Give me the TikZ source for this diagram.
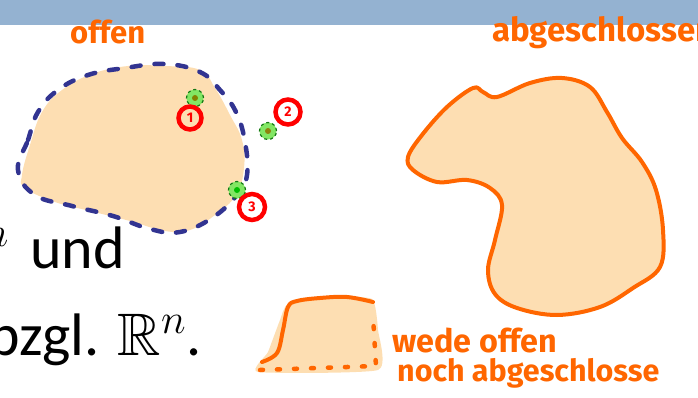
\RequirePackage{fix-cm}
\documentclass[tikz,border=0pt]{standalone}
\usepackage{fontspec}
\usepackage{amssymb}
\setmainfont{Carlito}
\newfontfamily\hand{Fira Sans}
\definecolor{band}{RGB}{148,178,209}
\definecolor{peach}{RGB}{253,222,178}
\definecolor{hando}{RGB}{255,102,0}
\definecolor{dashblue}{RGB}{50,52,145}
\definecolor{ptgreen}{RGB}{130,230,100}
\definecolor{ptdark}{RGB}{20,120,20}
\definecolor{dotolive}{RGB}{130,130,0}
\definecolor{dotgreen}{RGB}{0,190,0}
\tikzset{
  slidetext/.style={anchor=base west, inner sep=0pt, font=\fontsize{60}{72}\selectfont},
  handlabel/.style={anchor=base west, inner sep=0pt, text=hando, font=\hand\bfseries},
  gpt/.style={circle, minimum size=17pt, inner sep=0pt, fill=ptgreen, draw=ptdark, dashed, line width=1.2pt},
  rnum/.style={circle, minimum size=23pt, inner sep=0pt, draw=red, line width=4.5pt, text=red, font=\hand\bfseries\fontsize{14}{14}\selectfont},
  bluedash/.style={draw=dashblue, line width=4.5pt, line cap=round, dash pattern=on 9pt off 14pt},
  orangeline/.style={draw=hando, line width=4pt, line cap=round, line join=round},
  orangedots/.style={draw=hando, line width=4.5pt, line cap=round, dash pattern=on 3pt off 14pt}
}
\begin{document}
\begin{tikzpicture}[x=1pt,y=-1pt]
\useasboundingbox (0,0) rectangle (698,398);
% top band
\fill[band] (0,0) rectangle (698,25);

% slide text
\node[slidetext, anchor=base east] (sup) at (9,268) {${}^n$};
\node[slidetext] (und) at (30,268) {und};
\node[slidetext] (bzgl) at (-11.5,355) {bzgl. $\mathbb{R}^n$.};

% open set
\fill[peach] plot[smooth cycle, tension=0.7] coordinates {
 (22,175) (30,145) (42,112) (62,90) (92,74) (128,66) (165,66) (200,70)
 (215,88) (230,115) (242,140) (244,168) (236,195) (215,215) (190,230)
 (165,231) (130,221) (90,211) (55,202) (25,188)};
\draw[bluedash] plot[smooth cycle, tension=0.7] coordinates {
 (18,170) (28,140) (38,112) (58,90) (88,75) (125,68) (165,64) (200,72)
 (220,90) (236,112) (245,142) (247,175) (237,195) (212,218) (180,232)
 (150,229) (113,216) (72,206) (35,195)};

% closed set
\filldraw[fill=peach, orangeline] plot[smooth cycle, tension=0.6] coordinates {
 (408,157) (422,135) (447,107) (473,88) (483,92) (497,97) (530,83) (562,78)
 (590,87) (607,112) (622,138) (642,162) (656,190) (663,230) (660,267)
 (633,288) (600,307) (557,315) (517,308) (495,294) (488,270) (495,240)
 (502,205) (490,188) (467,180) (437,182) (413,170)};

% neither
\fill[peach] plot[smooth cycle, tension=0.3] coordinates {
 (258,372) (268,352) (280,320) (288,304) (330,297) (372,299) (378,330) (378,370)};
\draw[orangeline] plot[smooth, tension=0.6] coordinates {
 (262,362) (277,353) (283,330) (288,307) (297,301) (320,298) (347,297) (373,302)};
\draw[orangedots] (260,370) -- (376,366) -- (373,316);

% points
\node[gpt] (A) at (195,98) {};
\node[gpt] (B) at (268,131) {};
\node[gpt] (C) at (237,190) {};
\fill[dotolive] (A) circle (3pt);
\fill[dotolive!80!brown] (B) circle (3pt);
\fill[dotgreen] (C) circle (3pt);
\node[rnum] (n1) at (190,118) {1};
\node[rnum, minimum size=25pt] (n2) at (288,112) {2};
\node[rnum, minimum size=26pt] (n3) at (252,207) {3};

% handwritten labels
\node[handlabel] (offen) at (70,44) {\resizebox{75pt}{!}{offen}};
\node[handlabel] (abg) at (492,42) {\resizebox{222pt}{!}{abgeschlossen}};
\node[handlabel] (wede) at (392,352) {\resizebox{165pt}{!}{wede offen}};
\node[handlabel] (noch) at (397,381) {\resizebox{262pt}{!}{noch abgeschlosse}};
\end{tikzpicture}
\end{document}
